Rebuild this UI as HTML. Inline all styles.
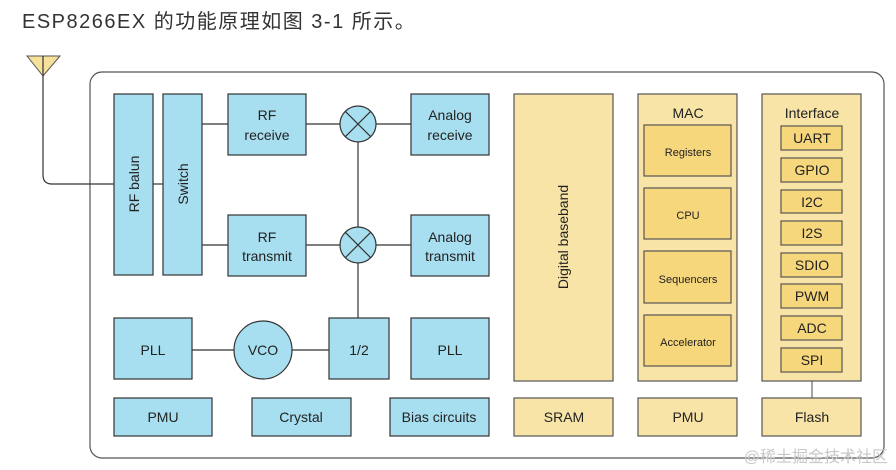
<!DOCTYPE html>
<html><head><meta charset="utf-8"><style>
html,body{margin:0;padding:0;background:#fff;width:896px;height:470px;overflow:hidden}
svg{display:block}
text{font-family:"Liberation Sans","Noto Sans CJK SC",sans-serif;fill:#222}
.b{fill:#a8dff0;stroke:#333;stroke-width:1.2}
.y{fill:#f7e4a6;stroke:#555;stroke-width:1.2}
.yd{fill:#f7d77c;stroke:#555;stroke-width:1.2}
.l{stroke:#333;stroke-width:1.2;fill:none}
</style></head><body>
<svg width="896" height="470" viewBox="0 0 896 470">
<text x="22" y="28" font-size="20" letter-spacing="1.5" style="fill:#333">ESP8266EX 的功能原理如图 3-1 所示。</text>
<rect x="90" y="72" width="794" height="386" rx="12" fill="none" stroke="#555" stroke-width="1.2"/>
<polygon points="27,56 60,56 43,76" fill="#f7e09a" stroke="#555" stroke-width="1"/>
<path class="l" d="M43,56 V175 Q43,184 52,184 H114"/>
<line class="l" x1="153" y1="184" x2="163" y2="184"/>
<line class="l" x1="202" y1="124" x2="228" y2="124"/>
<line class="l" x1="202" y1="245" x2="228" y2="245"/>
<line class="l" x1="306" y1="124" x2="411" y2="124"/>
<line class="l" x1="306" y1="245" x2="411" y2="245"/>
<line class="l" x1="358" y1="124" x2="358" y2="318"/>
<line class="l" x1="192" y1="350" x2="329" y2="350"/>
<line x1="812" y1="372" x2="812" y2="398" stroke="#666" stroke-width="1.2"/>
<rect class="b" x="114" y="94" width="39" height="181"/>
<text transform="translate(139,184) rotate(-90)" font-size="14" text-anchor="middle">RF balun</text>
<rect class="b" x="163" y="94" width="39" height="181"/>
<text transform="translate(188,184) rotate(-90)" font-size="14" text-anchor="middle">Switch</text>
<rect class="b" x="228" y="94" width="78" height="61"/>
<text x="267" y="120" font-size="14" text-anchor="middle">RF</text><text x="267" y="140" font-size="14" text-anchor="middle">receive</text>
<rect class="b" x="228" y="215" width="78" height="61"/>
<text x="267" y="242" font-size="14" text-anchor="middle">RF</text><text x="267" y="261" font-size="14" text-anchor="middle">transmit</text>
<rect class="b" x="411" y="94" width="78" height="61"/>
<text x="450" y="120" font-size="14" text-anchor="middle">Analog</text><text x="450" y="140" font-size="14" text-anchor="middle">receive</text>
<rect class="b" x="411" y="215" width="78" height="61"/>
<text x="450" y="242" font-size="14" text-anchor="middle">Analog</text><text x="450" y="261" font-size="14" text-anchor="middle">transmit</text>
<circle class="b" cx="358" cy="124" r="18"/>
<path class="l" d="M345.3,111.3 L370.7,136.7 M370.7,111.3 L345.3,136.7"/>
<circle class="b" cx="358" cy="245" r="18"/>
<path class="l" d="M345.3,232.3 L370.7,257.7 M370.7,232.3 L345.3,257.7"/>
<rect class="b" x="114" y="318" width="78" height="61"/>
<text x="153" y="355" font-size="14" text-anchor="middle">PLL</text>
<circle class="b" cx="263" cy="350" r="29"/>
<text x="263" y="355" font-size="14" text-anchor="middle">VCO</text>
<rect class="b" x="329" y="318" width="60" height="61"/>
<text x="359" y="355" font-size="14" text-anchor="middle">1/2</text>
<rect class="b" x="411" y="318" width="78" height="61"/>
<text x="450" y="355" font-size="14" text-anchor="middle">PLL</text>
<rect class="b" x="114" y="398" width="98" height="38"/>
<text x="163" y="422" font-size="14" text-anchor="middle">PMU</text>
<rect class="b" x="252" y="398" width="99" height="38"/>
<text x="301" y="422" font-size="14" text-anchor="middle">Crystal</text>
<rect class="b" x="390" y="398" width="99" height="38"/>
<text x="439" y="422" font-size="14" text-anchor="middle">Bias circuits</text>
<rect class="y" x="514" y="94" width="99" height="287"/>
<text transform="translate(568,237) rotate(-90)" font-size="14" text-anchor="middle">Digital baseband</text>
<rect class="y" x="638" y="94" width="99" height="287"/>
<text x="688" y="118" font-size="14" text-anchor="middle">MAC</text>
<rect class="yd" x="644" y="125" width="87" height="51"/><text x="688" y="156" font-size="11" text-anchor="middle">Registers</text>
<rect class="yd" x="644" y="188" width="87" height="51"/><text x="688" y="219" font-size="11" text-anchor="middle">CPU</text>
<rect class="yd" x="644" y="251" width="87" height="52"/><text x="688" y="283" font-size="11" text-anchor="middle">Sequencers</text>
<rect class="yd" x="644" y="315" width="87" height="51"/><text x="688" y="346" font-size="11" text-anchor="middle">Accelerator</text>
<rect class="y" x="762" y="94" width="99" height="287"/>
<text x="812" y="118" font-size="14" text-anchor="middle">Interface</text>
<rect class="yd" x="781" y="126" width="61" height="24"/><text x="812" y="143" text-anchor="middle" font-size="14">UART</text>
<rect class="yd" x="781" y="158" width="61" height="24"/><text x="812" y="175" text-anchor="middle" font-size="14">GPIO</text>
<rect class="yd" x="781" y="190" width="61" height="23"/><text x="812" y="207" text-anchor="middle" font-size="14">I2C</text>
<rect class="yd" x="781" y="221" width="61" height="24"/><text x="812" y="238" text-anchor="middle" font-size="14">I2S</text>
<rect class="yd" x="781" y="253" width="61" height="24"/><text x="812" y="270" text-anchor="middle" font-size="14">SDIO</text>
<rect class="yd" x="781" y="284" width="61" height="24"/><text x="812" y="301" text-anchor="middle" font-size="14">PWM</text>
<rect class="yd" x="781" y="316" width="61" height="24"/><text x="812" y="333" text-anchor="middle" font-size="14">ADC</text>
<rect class="yd" x="781" y="348" width="61" height="24"/><text x="812" y="365" text-anchor="middle" font-size="14">SPI</text>
<rect class="y" x="514" y="398" width="99" height="38"/><text x="564" y="422" font-size="14" text-anchor="middle">SRAM</text>
<rect class="y" x="638" y="398" width="99" height="38"/><text x="688" y="422" font-size="14" text-anchor="middle">PMU</text>
<rect class="y" x="762" y="398" width="99" height="38"/><text x="812" y="422" font-size="14" text-anchor="middle">Flash</text>
<text x="888" y="462" font-size="16" text-anchor="end" style="fill:#c8c8c8">@稀土掘金技术社区</text>
</svg>
</body></html>
